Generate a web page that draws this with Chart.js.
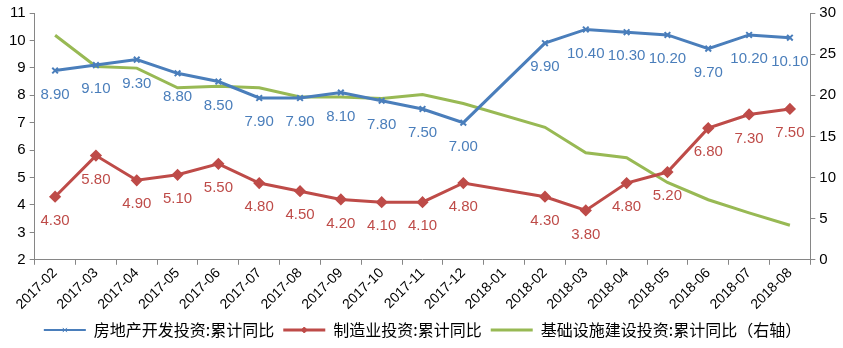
<!DOCTYPE html>
<html>
<head>
<meta charset="utf-8">
<script src="https://cdn.jsdelivr.net/npm/chart.js@4/dist/chart.umd.min.js"></script>
<style>
  html, body { margin: 0; padding: 0; background: #fff; }
  #wrap { width: 843px; height: 348px; }
</style>
</head>
<body>
<div id="wrap"><canvas id="myChart" width="843" height="348"></canvas></div>
<script>
var categories = ['2017-02', '2017-03', '2017-04', '2017-05', '2017-06', '2017-07', '2017-08', '2017-09',
    '2017-10', '2017-11', '2017-12', '2018-01', '2018-02', '2018-03', '2018-04', '2018-05', '2018-06',
    '2018-07', '2018-08'];
var realEstate = [8.9, 9.1, 9.3, 8.8, 8.5, 7.9, 7.9, 8.1, 7.8, 7.5, 7.0, null, 9.9, 10.4, 10.3, 10.2, 9.7, 10.2, 10.1];
var manufacturing = [4.3, 5.8, 4.9, 5.1, 5.5, 4.8, 4.5, 4.2, 4.1, 4.1, 4.8, null, 4.3, 3.8, 4.8, 5.2, 6.8, 7.3, 7.5];
var infrastructure = [27.3, 23.5, 23.3, 20.9, 21.1, 20.9, 19.8, 19.8, 19.6, 20.1, 19.0, null, 16.1, 13.0, 12.4, 9.4, 7.3, 5.7, 4.2];

var blue = '#4A7EBB';
var red = '#BE4B48';
var green = '#98B954';
var axisColor = '#868686';
var font = "'Liberation Sans', Arial, sans-serif";
var legendLine = 42;

// draws the value under each point (no datalabels plugin available offline)
var valueLabels = {
    id: 'valueLabels',
    afterDatasetsDraw(chart) {
        var ctx = chart.ctx;
        chart.data.datasets.forEach((ds, i) => {
            if (!ds.showValues) return;
            var meta = chart.getDatasetMeta(i);
            ctx.save();
            ctx.font = '15px ' + font;
            ctx.fillStyle = ds.borderColor;
            ctx.textAlign = 'center';
            ctx.textBaseline = 'middle';
            meta.data.forEach((pt, j) => {
                var v = ds.data[j];
                if (v === null) return;
                ctx.fillText(v.toFixed(2), pt.x, pt.y + 24);
            });
            ctx.restore();
        });
    }
};

// small markers on the legend lines, like the excel legend
var legendMarkers = {
    id: 'legendMarkers',
    afterDraw(chart) {
        var legend = chart.legend;
        if (!legend || !legend.legendHitBoxes) return;
        var ctx = chart.ctx;
        chart.data.datasets.forEach((ds, i) => {
            if (!ds.pointRadius) return;
            var box = legend.legendHitBoxes[i];
            var x = box.left + legendLine / 2;
            var y = box.top + box.height / 2;
            ctx.save();
            ctx.strokeStyle = ds.borderColor;
            ctx.fillStyle = ds.borderColor;
            ctx.lineWidth = 1;
            Chart.helpers.drawPoint(ctx, { pointStyle: ds.pointStyle, radius: 3, borderWidth: 1 }, x, y);
            ctx.restore();
        });
    }
};

var ctx = document.getElementById('myChart').getContext('2d');
var myChart = new Chart(ctx, {
    type: 'line',
    data: {
        labels: categories,
        datasets: [{
            label: '房地产开发投资:累计同比',
            data: realEstate,
            borderColor: blue,
            backgroundColor: blue,
            borderWidth: 3,
            pointStyle: 'crossRot',
            pointRadius: 4,
            pointBorderWidth: 2,
            tension: 0,
            spanGaps: true,
            yAxisID: 'y',
            showValues: true
        }, {
            label: '制造业投资:累计同比',
            data: manufacturing,
            borderColor: red,
            backgroundColor: red,
            borderWidth: 3,
            pointStyle: 'rectRot',
            pointRadius: 4,
            tension: 0,
            spanGaps: true,
            yAxisID: 'y',
            showValues: true
        }, {
            label: '基础设施建设投资:累计同比（右轴）',
            data: infrastructure,
            borderColor: green,
            backgroundColor: green,
            borderWidth: 3,
            pointRadius: 0,
            tension: 0,
            spanGaps: true,
            yAxisID: 'y1'
        }]
    },
    options: {
        responsive: false,
        animation: false,
        layout: { padding: { top: 0, right: 3, left: 5, bottom: 0 } },
        plugins: {
            tooltip: { enabled: false },
            legend: {
                position: 'bottom',
                labels: {
                    usePointStyle: true,
                    pointStyle: 'line',
                    pointStyleWidth: legendLine,
                    color: '#000',
                    padding: 9,
                    font: { family: "'Noto Sans CJK SC', sans-serif", size: 16 }
                }
            }
        },
        scales: {
            x: {
                offset: true,
                grid: { display: true, drawOnChartArea: false, offset: true, tickLength: 5, color: axisColor },
                border: { color: axisColor },
                ticks: {
                    color: '#000',
                    minRotation: 45,
                    maxRotation: 45,
                    autoSkip: false,
                    padding: 0,
                    font: { family: font, size: 14 }
                }
            },
            y: {
                position: 'left',
                min: 2,
                max: 11,
                grid: { display: true, drawOnChartArea: false, tickLength: 5, color: axisColor },
                border: { color: axisColor },
                ticks: { stepSize: 1, color: '#000', padding: 4, font: { family: font, size: 15 } }
            },
            y1: {
                position: 'right',
                min: 0,
                max: 30,
                grid: { display: true, drawOnChartArea: false, tickLength: 5, color: axisColor },
                border: { color: axisColor },
                ticks: { stepSize: 5, color: '#000', padding: 4, font: { family: font, size: 15 } }
            }
        }
    },
    plugins: [valueLabels, legendMarkers]
});
</script>
</body>
</html>
